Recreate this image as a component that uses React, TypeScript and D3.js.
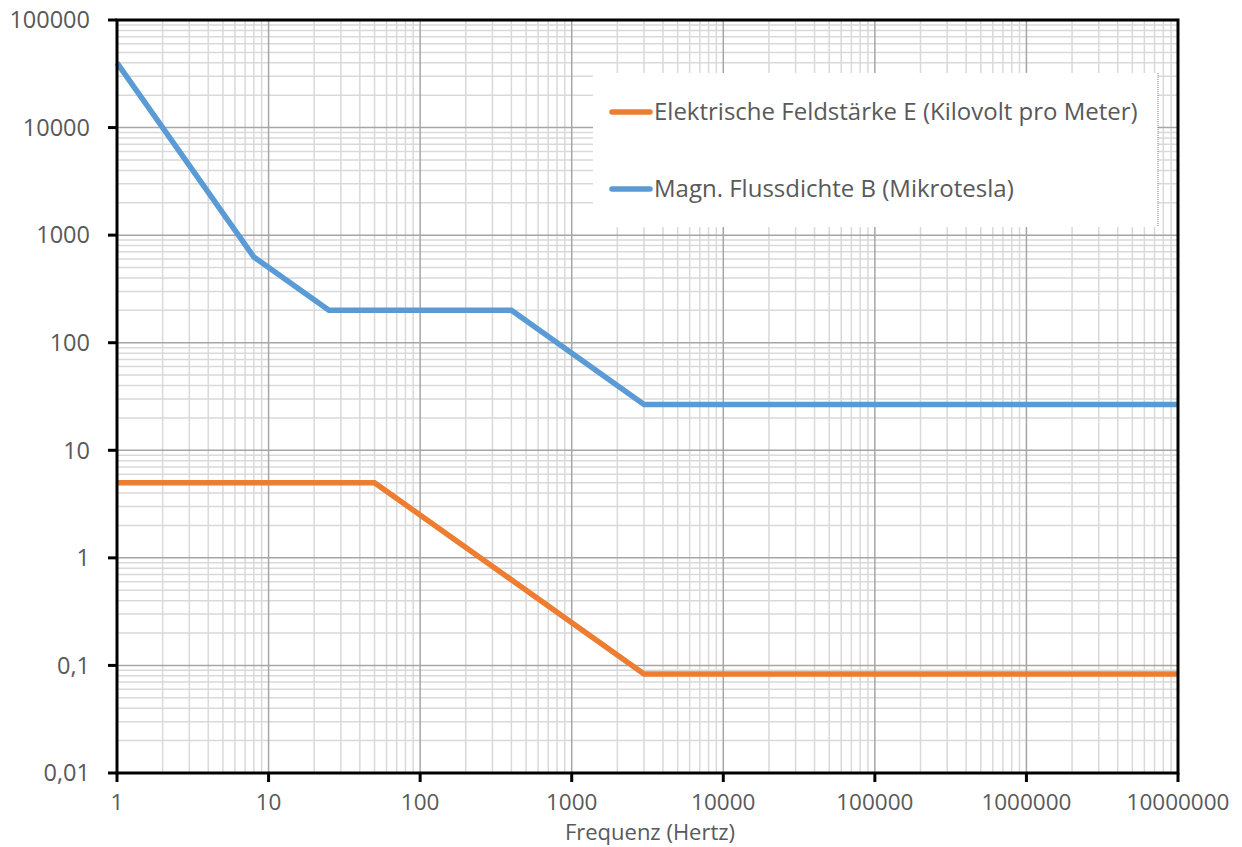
import React from "react";
import * as d3 from "d3";

const seriesNames = ["Elektrische Feldstärke E (Kilovolt pro Meter)", "Magn. Flussdichte B (Mikrotesla)"];
const eFreq = [1, 50, 3000, 10000000];
const eValues = [5, 5, 0.0833, 0.0833];
const bFreq = [1, 8, 25, 400, 3000, 10000000];
const bValues = [40000, 625, 200, 200, 26.7, 26.7];
const xTicks = [1, 10, 100, 1000, 10000, 100000, 1000000, 10000000];
const xTickLabels = ["1", "10", "100", "1000", "10000", "100000", "1000000", "10000000"];
const yTicks = [0.01, 0.1, 1, 10, 100, 1000, 10000, 100000];
const yTickLabels = ["0,01", "0,1", "1", "10", "100", "1000", "10000", "100000"];
const xTitle = "Frequenz (Hertz)";

const W = 1242, H = 847;
const L = 117, R = 1178, T = 20, B = 773;
const FONT = "'Open Sans', sans-serif";
const TXT = "#595959";

export default function App() {
  const x = d3.scaleLog().domain([1, 1e7]).range([L, R]);
  const y = d3.scaleLog().domain([0.01, 1e5]).range([B, T]);
  const minorX: number[] = [];
  for (let d = 0; d < 7; d++) for (let k = 2; k <= 9; k++) minorX.push(k * Math.pow(10, d));
  const minorY: number[] = [];
  for (let d = -2; d < 5; d++) for (let k = 2; k <= 9; k++) minorY.push(k * Math.pow(10, d));
  const line = d3.line<[number, number]>().x(d => x(d[0])).y(d => y(d[1]));
  const eData = eFreq.map((f, i) => [f, eValues[i]] as [number, number]);
  const bData = bFreq.map((f, i) => [f, bValues[i]] as [number, number]);
  const colors = ["#ED7D31", "#5B9BD5"];
  const legendY = [112, 189];
  return (
    <svg width={W} height={H} style={{ position: "absolute", left: 0, top: 0, background: "#fff" }}>
      <rect x={0} y={0} width={W} height={H} fill="#fff" />
      {minorX.map((v, i) => (
        <line key={"mx" + i} x1={x(v)} x2={x(v)} y1={T} y2={B} stroke="#d9d9d9" strokeWidth={1.5} />
      ))}
      {minorY.map((v, i) => (
        <line key={"my" + i} x1={L} x2={R} y1={y(v)} y2={y(v)} stroke="#d9d9d9" strokeWidth={1.5} />
      ))}
      {xTicks.map((v, i) => (
        <line key={"Mx" + i} x1={x(v)} x2={x(v)} y1={T} y2={B} stroke="#a6a6a6" strokeWidth={1.5} />
      ))}
      {yTicks.map((v, i) => (
        <line key={"My" + i} x1={L} x2={R} y1={y(v)} y2={y(v)} stroke="#a6a6a6" strokeWidth={1.5} />
      ))}
      <rect x={593} y={73} width={565} height={154} fill="#fff" />
      <line x1={1158} x2={1158} y1={73} y2={227} stroke="#595959" strokeWidth={0.8} strokeDasharray="1,1" />
      <path d={line(bData) || ""} fill="none" stroke={colors[1]} strokeWidth={5.5} />
      <path d={line(eData) || ""} fill="none" stroke={colors[0]} strokeWidth={5.5} />
      <rect x={L} y={T} width={R - L} height={B - T} fill="none" stroke="#000" strokeWidth={3} />
      {yTicks.map((v, i) => (
        <g key={"yt" + i}>
          <line x1={L - 9} x2={L} y1={y(v)} y2={y(v)} stroke="#000" strokeWidth={3} />
          <text x={90} y={y(v)} dy="0.35em" textAnchor="end" fontFamily={FONT} fontSize={23.5} fill={TXT}>{yTickLabels[i]}</text>
        </g>
      ))}
      {xTicks.map((v, i) => (
        <g key={"xt" + i}>
          <line x1={x(v)} x2={x(v)} y1={B} y2={B + 9} stroke="#000" strokeWidth={3} />
          <text x={x(v)} y={810} textAnchor="middle" fontFamily={FONT} fontSize={22.5} fill={TXT}>{xTickLabels[i]}</text>
        </g>
      ))}
      <text x={650} y={840} textAnchor="middle" fontFamily={FONT} fontSize={22} fill={TXT}>{xTitle}</text>
      {seriesNames.map((n, i) => (
        <g key={"lg" + i}>
          <line x1={612} x2={650} y1={legendY[i]} y2={legendY[i]} stroke={colors[i]} strokeWidth={5.5} strokeLinecap="round" />
          <text x={654} y={legendY[i] + 8} fontFamily={FONT} fontSize={24} fill={TXT}>{n}</text>
        </g>
      ))}
    </svg>
  );
}
